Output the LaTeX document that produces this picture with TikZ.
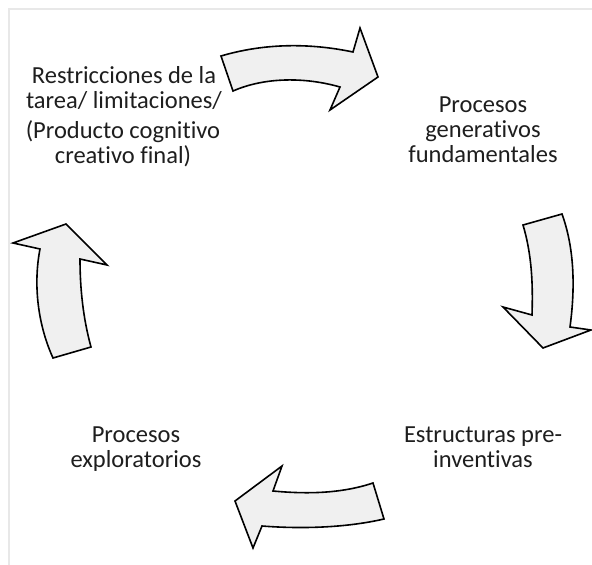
\documentclass[tikz,border=0pt]{standalone}
\usepackage{fontspec}
\setmainfont[Ligatures={NoCommon}]{Carlito}
\definecolor{arrowfill}{RGB}{240,240,240}
\definecolor{txt}{RGB}{30,30,30}
\definecolor{frameline}{RGB}{232,232,232}
\tikzset{
  bigarrow/.style={draw=black, fill=arrowfill, line width=1.6pt, line join=miter},
  label/.style={align=center, text=txt, inner sep=0pt, font=\fontsize{24.5}{25}\selectfont},
}
\begin{document}
\begin{tikzpicture}[x=1pt,y=-1pt]
\useasboundingbox (0,0) rectangle (592,565);
\fill[white] (0,0) rectangle (592,565);
% faint frame
\draw[frameline, line width=1.2pt] (9,565) -- (9,9) -- (592,9);

% text blocks (anchor base = baseline of last line)
\node[label, anchor=base] (restr) at (124,108) {Restricciones de la\\tarea/ limitaciones/};
\node[label, anchor=base] (prod) at (123,163) {(Producto cognitivo\\creativo final)};
\node[label, anchor=base] (gen) at (483,162) {Procesos\\generativos\\fundamentales};
\node[label, anchor=base] (estr) at (483,467) {Estructuras pre-\\inventivas};
\node[label, anchor=base] (expl) at (136,467) {Procesos\\exploratorios};

% top arrow (pointing right)
\draw[bigarrow] (221,56) .. controls (265,43) and (310,43) .. (353,52)
  -- (360,28) -- (378,77) -- (330,110) -- (340,87)
  .. controls (305,77) and (265,77) .. (233,91) -- cycle;

% right arrow (pointing down)
\draw[bigarrow] (523,225) -- (562,214) .. controls (575,250) and (575,290) .. (570,327)
  -- (591,330) -- (543,348) -- (503,307) -- (532,315)
  .. controls (533,285) and (532,255) .. cycle;

% bottom arrow (pointing left)
\draw[bigarrow] (373,483) .. controls (340,494) and (305,494) .. (273,491)
  -- (282,466) -- (235,501) -- (253,548) -- (262,526)
  .. controls (300,529) and (345,528) .. (384,519) -- cycle;

% left arrow (pointing up)
\draw[bigarrow] (53,358) -- (91,347) .. controls (83,318) and (80,288) .. (80,259)
  -- (107,265) -- (66,224) -- (13,243) -- (40,249)
  .. controls (33,285) and (38,325) .. cycle;
\end{tikzpicture}
\end{document}
